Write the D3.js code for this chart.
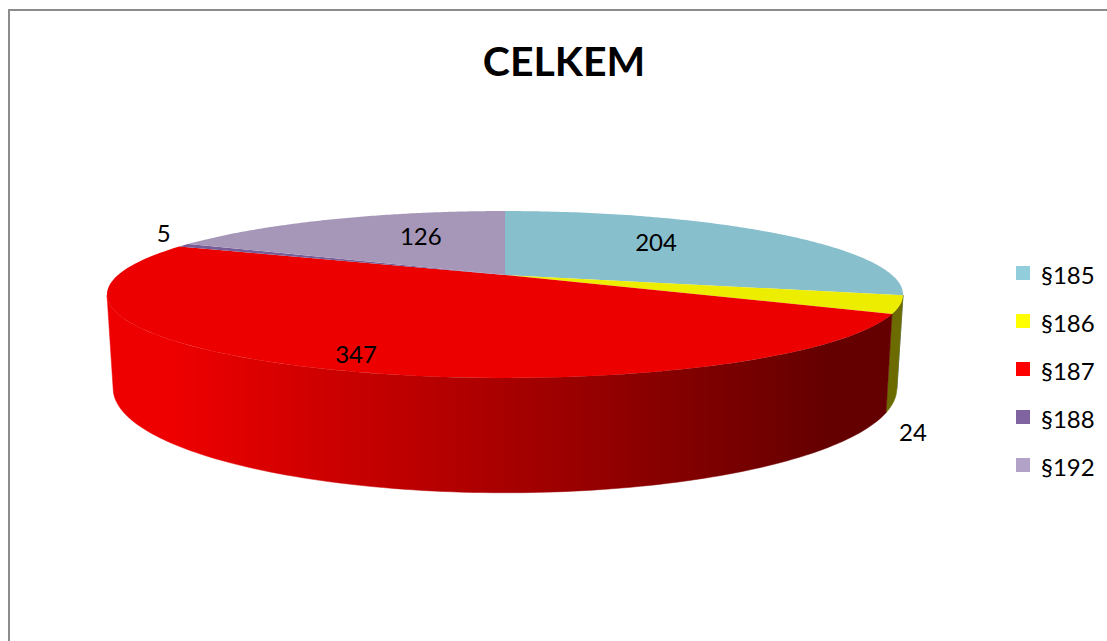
<!DOCTYPE html>
<html>
<head>
<meta charset="utf-8">
<script src="https://cdn.jsdelivr.net/npm/d3@7"></script>
<style>
  html, body { margin: 0; padding: 0; background: #fff; }
  svg { display: block; }
  text { font-family: Lato, "Open Sans", sans-serif; fill: #000; }
</style>
</head>
<body>
<svg width="1107" height="641"></svg>
<script>
var categories = ["§185", "§186", "§187", "§188", "§192"];
var values = [204, 24, 347, 5, 126];
var colors = ["#92cddc", "#ffff00", "#ff0000", "#8064a2", "#b2a2c7"];
var sideColors = ["#4f7480", "#6b6b00", "#5c0000", "#3d2f52", "#5e5470"];
var titleText = "CELKEM";

// where each value label sits: radius factor along the slice, then a nudge
var labelRadius = [0.533, 1.03, 0.77, 1.069, 0.445];
var labelNudge = [-8, 127, 14, -10, -11];

var svg = d3.select("svg"),
    width = +svg.attr("width"),
    height = +svg.attr("height");

var topPlane = {cx: 505, cy: 275, rx: 387, ry: 78.9, k: 0.2335},
    bottomPlane = {cx: 505, cy: 364, rx: 381, ry: 98.7, k: 0.2335};

// unit circle to the tilted disc, with a little perspective
function project(plane, angle, r) {
  var u = Math.sin(angle) * r,
      v = Math.cos(angle) * r,
      w = 1 + plane.k * v;
  return [plane.cx + plane.rx * u / w, plane.cy - plane.ry * v / w];
}

var pie = d3.pie().sort(null);
var arcs = pie(values);

var line = d3.line();

function rimPoints(plane, a0, a1) {
  return d3.range(0, 121).map(function(i) {
    return project(plane, a0 + (a1 - a0) * i / 120, 1);
  });
}

var defs = svg.append("defs");
var grad = defs.append("linearGradient")
    .attr("id", "redSide")
    .attr("gradientUnits", "userSpaceOnUse")
    .attr("x1", 170).attr("x2", 830)
    .attr("y1", 0).attr("y2", 0);
grad.append("stop").attr("offset", "0").attr("stop-color", "#ee0000");
grad.append("stop").attr("offset", "1").attr("stop-color", "#640000");

// frame
svg.append("path")
    .attr("d", "M9,641V10H1107")
    .attr("fill", "none")
    .attr("stroke", "#8c8c8c")
    .attr("stroke-width", 2);

svg.append("text")
    .attr("x", 564)
    .attr("y", 76)
    .attr("text-anchor", "middle")
    .style("font-size", "41px")
    .style("font-weight", "700")
    .text(titleText);

// side wall of the slices facing the viewer, between the two widest points of the rim
var rightLimit = 104 * Math.PI / 180,
    leftLimit = 256 * Math.PI / 180;

svg.append("g").selectAll("path")
    .data(arcs.filter(function(d) { return d.startAngle < leftLimit && d.endAngle > rightLimit; }))
    .enter().append("path")
    .attr("d", function(d) {
      var a0 = Math.max(d.startAngle, rightLimit),
          a1 = Math.min(d.endAngle, leftLimit);
      return line(rimPoints(topPlane, a0, a1).concat(rimPoints(bottomPlane, a0, a1).reverse())) + "Z";
    })
    .attr("fill", function(d) { return d.index === 2 ? "url(#redSide)" : sideColors[d.index]; })
    .attr("stroke", function(d) { return d.index === 2 ? "url(#redSide)" : sideColors[d.index]; })
    .attr("stroke-width", 0.5);

// top of the pie
svg.append("g").selectAll("path")
    .data(arcs)
    .enter().append("path")
    .attr("d", function(d) {
      var pts = rimPoints(topPlane, d.startAngle, d.endAngle);
      pts.unshift(project(topPlane, 0, 0));
      return line(pts) + "Z";
    })
    .attr("fill", function(d) {
      var c = d3.rgb(colors[d.index]);
      return d3.rgb(c.r * 0.93, c.g * 0.93, c.b * 0.93).formatHex();
    });

// value labels
svg.append("g").selectAll("text")
    .data(arcs)
    .enter().append("text")
    .attr("transform", function(d) {
      var p = project(topPlane, (d.startAngle + d.endAngle) / 2, labelRadius[d.index]);
      return "translate(" + p[0] + "," + (p[1] + labelNudge[d.index]) + ")";
    })
    .attr("dy", "0.35em")
    .attr("text-anchor", "middle")
    .style("font-size", "24px")
    .text(function(d) { return d.value; });

// legend
var legendY = d3.scalePoint().domain(categories).range([273, 465]);
var legend = svg.append("g").selectAll("g")
    .data(categories)
    .enter().append("g")
    .attr("transform", function(d) { return "translate(1016," + legendY(d) + ")"; });

legend.append("rect")
    .attr("y", -7)
    .attr("width", 14)
    .attr("height", 14)
    .attr("fill", function(d, i) { return colors[i]; });

legend.append("text")
    .attr("x", 25)
    .attr("y", 3)
    .attr("dy", "0.35em")
    .style("font-size", "24px")
    .text(function(d) { return d; });
</script>
</body>
</html>
